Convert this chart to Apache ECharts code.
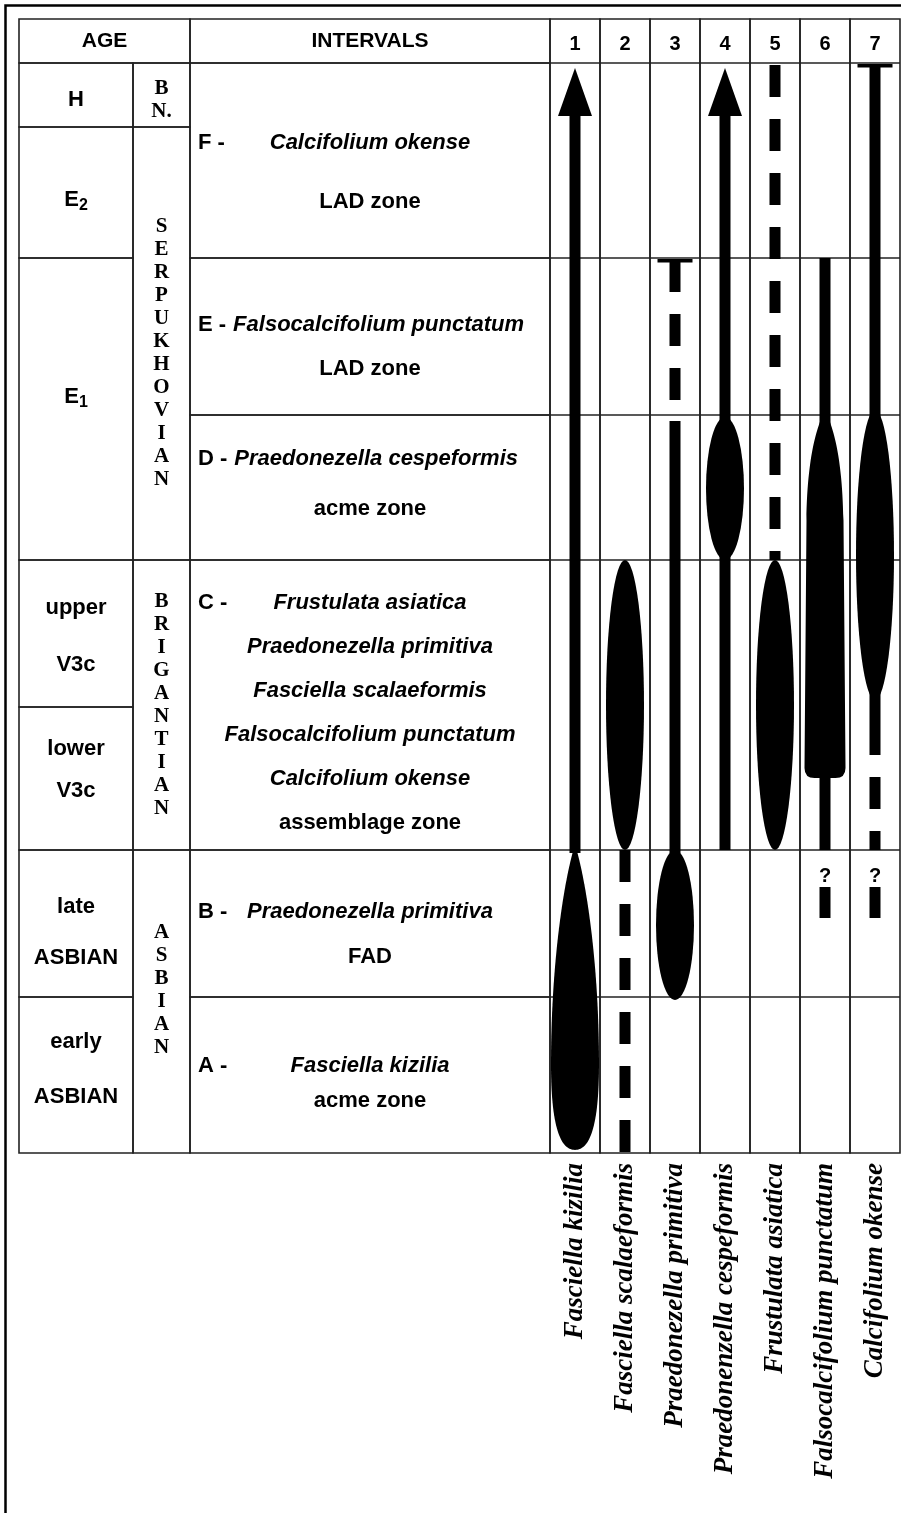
<!DOCTYPE html>
<html>
<head>
<meta charset="utf-8">
<title>Range chart</title>
<script src="https://cdn.jsdelivr.net/npm/echarts@6/dist/echarts.min.js"></script>
<style>
  html, body { margin: 0; padding: 0; background: #fff; }
  #chart { width: 901px; height: 1513px; }
</style>
</head>
<body>
<div id="chart"></div>
<script>
// ---- data ----
// stratigraphic height scale: 0 = base of early Asbian, 1090 = top of H
const species = ['Fasciella kizilia', 'Fasciella scalaeformis', 'Praedonezella primitiva',
  'Praedonenzella cespeformis', 'Frustulata asiatica', 'Falsocalcifolium punctatum', 'Calcifolium okense'];
const columnNumbers = ['1', '2', '3', '4', '5', '6', '7'];
const headers = ['AGE', 'INTERVALS'];

const ageNames = ['early\nASBIAN', 'late\nASBIAN', 'lower\nV3c', 'upper\nV3c', 'E_1', 'E_2', 'H'];
const ageBase = [0, 156, 303, 446, 593, 895, 1026];
const ageTop = [156, 303, 446, 593, 895, 1026, 1090];

const stageNames = ['ASBIAN', 'BRIGANTIAN', 'SERPUKHOVIAN', 'BN.'];
const stageBase = [0, 303, 593, 1026];
const stageTop = [303, 593, 1026, 1090];

const zonePrefix = ['A -', 'B -', 'C -', 'D -', 'E -', 'F -'];
const zoneBase = [0, 156, 303, 593, 738, 895];
const zoneTop = [156, 303, 593, 738, 895, 1090];
const zoneLines = [
  ['Fasciella kizilia', 'acme zone'],
  ['Praedonezella primitiva', 'FAD'],
  ['Frustulata asiatica', 'Praedonezella primitiva', 'Fasciella scalaeformis',
    'Falsocalcifolium punctatum', 'Calcifolium okense', 'assemblage zone'],
  ['Praedonezella cespeformis', 'acme zone'],
  ['Falsocalcifolium punctatum', 'LAD zone'],
  ['Calcifolium okense', 'LAD zone']
];
const zoneTaxaLines = [1, 1, 5, 1, 1, 1]; // leading lines that are taxon names (italic)

// ranges: [species index, base level, top level]
const solidRanges = [[0, 300, 1037], [2, 300, 732], [3, 303, 1037], [5, 303, 895], [6, 398, 1088]];
const dashedRanges = [[1, 0, 303], [2, 738, 893], [4, 593, 1088], [6, 303, 376]];
const acmeEllipses = [[1, 303, 593], [2, 153, 303], [3, 593, 736], [4, 303, 593], [6, 453, 743]];
const acmeSpindles = [[5, 375, 743]];
const acmeTeardrops = [[0, 3, 308]];
const arrowHeads = [[0, 1037, 1085], [3, 1037, 1085]];
const lastBars = [[2, 893], [6, 1088]];
const uncertainRanges = [[5, 235, 266], [6, 235, 266]];

// ---- layout / style ----
const SANS = '"Liberation Sans", Arial, sans-serif';
const SERIF = '"Liberation Serif", "Times New Roman", serif';
const LINE = '#222';
const LW = 1.6;
const LEFT_COLS = [0, 114, 171, 531];   // age | stage | intervals, offsets in grid 0
const HEAD_SPANS = [[0, 2], [2, 3]];
const HEAD_H = 44;
const AGE_GAP = [55, 51, 42, 57, 0, 0, 0];
const AGE_DY = [-6, 9, -9, 3, -12, 7, 5];
const STAGE_DY = [-11, 0, 10, 5];
const ZONE_GAP = [35, 45, 44, 50, 44, 59];
const ZONE_DY = [8, 11, 8, -4, 10, 12];
const BAR_W = 11, ELLIPSE_W = 38, SPINDLE_W = 41, TEAR_W = 48, ARROW_W = 34, TBAR_W = 35;

const measureCtx = document.createElement('canvas').getContext('2d');
function textWidth(t, font) {
  measureCtx.font = font;
  return measureCtx.measureText(t).width;
}
function cellRect(x0, y0, x1, y1) {
  return {
    type: 'rect',
    shape: { x: x0, y: y0, width: x1 - x0, height: y1 - y0 },
    style: { fill: 'none', stroke: LINE, lineWidth: LW }
  };
}
function label(t, x, y, font, align) {
  return {
    type: 'text',
    style: { text: t, x: x, y: y, font: font, fill: '#000', align: align || 'center', verticalAlign: 'middle' }
  };
}
function levelY(api, v) {
  return api.coord([0, v])[1];
}

// ---- left table ----
function renderHeadLeft(params, api) {
  const cs = params.coordSys;
  const i = api.value(0);
  const x0 = cs.x + LEFT_COLS[HEAD_SPANS[i][0]];
  const x1 = cs.x + LEFT_COLS[HEAD_SPANS[i][1]];
  return {
    type: 'group',
    children: [
      cellRect(x0, cs.y - HEAD_H, x1, cs.y),
      label(headers[i], (x0 + x1) / 2, cs.y - HEAD_H / 2, 'bold 21px ' + SANS)
    ]
  };
}

function renderAge(params, api) {
  const cs = params.coordSys;
  const i = api.value(0);
  const yb = levelY(api, api.value(1));
  const yt = levelY(api, api.value(2));
  const x0 = cs.x + LEFT_COLS[0], x1 = cs.x + LEFT_COLS[1];
  const cx = (x0 + x1) / 2;
  const mid = (yb + yt) / 2 + AGE_DY[i];
  const font = 'bold 22px ' + SANS;
  const children = [cellRect(x0, yt, x1, yb)];
  const name = ageNames[i];
  if (name.indexOf('_') >= 0) {
    const parts = name.split('_');
    const subFont = 'bold 16px ' + SANS;
    const w1 = textWidth(parts[0], font), w2 = textWidth(parts[1], subFont);
    const left = cx - (w1 + w2) / 2;
    children.push(label(parts[0], left, mid, font, 'left'));
    children.push(label(parts[1], left + w1, mid + 6, subFont, 'left'));
  } else {
    const lines = name.split('\n');
    lines.forEach(function (t, k) {
      children.push(label(t, cx, mid + (k - (lines.length - 1) / 2) * AGE_GAP[i], font));
    });
  }
  return { type: 'group', children: children };
}

function renderStage(params, api) {
  const cs = params.coordSys;
  const i = api.value(0);
  const yb = levelY(api, api.value(1));
  const yt = levelY(api, api.value(2));
  const x0 = cs.x + LEFT_COLS[1], x1 = cs.x + LEFT_COLS[2];
  const letters = [];
  stageNames[i].split('').forEach(function (c) {
    if (c === '.' && letters.length) letters[letters.length - 1] += c;
    else letters.push(c);
  });
  return {
    type: 'group',
    children: [
      cellRect(x0, yt, x1, yb),
      {
        type: 'text',
        style: {
          text: letters.join('\n'), x: (x0 + x1) / 2, y: (yb + yt) / 2 + STAGE_DY[i],
          font: 'bold 21px ' + SERIF, lineHeight: 23, fill: '#000', align: 'center', verticalAlign: 'middle'
        }
      }
    ]
  };
}

function renderZone(params, api) {
  const cs = params.coordSys;
  const i = api.value(0);
  const yb = levelY(api, api.value(1));
  const yt = levelY(api, api.value(2));
  const x0 = cs.x + LEFT_COLS[2], x1 = cs.x + LEFT_COLS[3];
  const cx = (x0 + x1) / 2;
  const lines = zoneLines[i];
  const mid = (yb + yt) / 2 + ZONE_DY[i];
  const prefixFont = 'bold 22px ' + SANS;
  const prefixX = x0 + 8;
  const prefixRight = prefixX + textWidth(zonePrefix[i], prefixFont);
  const children = [cellRect(x0, yt, x1, yb)];
  lines.forEach(function (t, k) {
    const y = mid + (k - (lines.length - 1) / 2) * ZONE_GAP[i];
    const font = (k < zoneTaxaLines[i] ? 'italic ' : '') + 'bold 22px ' + SANS;
    let left = cx - textWidth(t, font) / 2;
    if (k === 0) {
      left = Math.max(left, prefixRight + 7);
      children.push(label(zonePrefix[i], prefixX, y, prefixFont, 'left'));
    }
    children.push(label(t, left, y, font, 'left'));
  });
  return { type: 'group', children: children };
}

// ---- species columns ----
function renderColumn(params, api) {
  const cs = params.coordSys;
  const i = api.value(0);
  const cx = api.coord([i, 0])[0];
  const bw = api.size([1, 0])[0];
  return {
    type: 'group',
    children: [
      cellRect(cx - bw / 2, cs.y - HEAD_H, cx + bw / 2, cs.y + cs.height),
      label(columnNumbers[i], cx, cs.y - HEAD_H / 2 + 3, 'bold 20px ' + SANS)
    ]
  };
}

function renderZoneLine(params, api) {
  const cs = params.coordSys;
  const y = levelY(api, api.value(0));
  return {
    type: 'line',
    shape: { x1: cs.x, y1: y, x2: cs.x + cs.width, y2: y },
    style: { stroke: LINE, lineWidth: LW }
  };
}

function rangePts(api) {
  const i = api.value(0);
  const p0 = api.coord([i, api.value(1)]);
  const p1 = api.coord([i, api.value(2)]);
  return { x: p0[0], yb: p0[1], yt: p1[1] };
}

function renderSolid(params, api) {
  const r = rangePts(api);
  return {
    type: 'rect',
    shape: { x: r.x - BAR_W / 2, y: r.yt, width: BAR_W, height: r.yb - r.yt },
    style: { fill: '#000' }
  };
}

function renderDashed(params, api) {
  const r = rangePts(api);
  return {
    type: 'line',
    shape: { x1: r.x, y1: r.yt, x2: r.x, y2: r.yb },
    style: { stroke: '#000', lineWidth: BAR_W, lineDash: [32, 22], lineCap: 'butt' }
  };
}

function renderEllipse(params, api) {
  const r = rangePts(api);
  const rx = ELLIPSE_W / 2, ry = (r.yb - r.yt) / 2;
  return {
    type: 'path',
    shape: {
      pathData: 'M' + r.x + ' ' + r.yt + ' A' + rx + ' ' + ry + ' 0 1 1 ' + r.x + ' ' + r.yb +
        ' A' + rx + ' ' + ry + ' 0 1 1 ' + r.x + ' ' + r.yt + ' Z'
    },
    style: { fill: '#000' }
  };
}

function renderSpindle(params, api) {
  const r = rangePts(api);
  const x = r.x, yt = r.yt, yb = r.yb, h = yb - yt, w = SPINDLE_W / 2;
  const d = [
    'M', x, yt,
    'C', x + 5, yt + 0.03 * h, x + w - 3, yt + 0.1 * h, x + w - 2, yt + 0.3 * h,
    'L', x + w, yb - 10,
    'Q', x + w, yb, x + w - 10, yb,
    'L', x - w + 10, yb,
    'Q', x - w, yb, x - w, yb - 10,
    'L', x - w + 2, yt + 0.3 * h,
    'C', x - w + 3, yt + 0.1 * h, x - 5, yt + 0.03 * h, x, yt, 'Z'
  ].join(' ');
  return { type: 'path', shape: { pathData: d }, style: { fill: '#000' } };
}

function renderTeardrop(params, api) {
  const r = rangePts(api);
  const x = r.x, yt = r.yt, yb = r.yb, h = yb - yt, w = TEAR_W / 2;
  const d = [
    'M', x, yt,
    'C', x + w * 0.35, yt + 0.08 * h, x + w, yt + 0.35 * h, x + w, yt + 0.72 * h,
    'C', x + w, yt + 0.95 * h, x + w * 0.5, yb, x, yb,
    'C', x - w * 0.5, yb, x - w, yt + 0.95 * h, x - w, yt + 0.72 * h,
    'C', x - w, yt + 0.35 * h, x - w * 0.35, yt + 0.08 * h, x, yt, 'Z'
  ].join(' ');
  return { type: 'path', shape: { pathData: d }, style: { fill: '#000' } };
}

function renderArrow(params, api) {
  const r = rangePts(api);
  return {
    type: 'polygon',
    shape: { points: [[r.x - ARROW_W / 2, r.yb], [r.x + ARROW_W / 2, r.yb], [r.x, r.yt]] },
    style: { fill: '#000' }
  };
}

function renderBar(params, api) {
  const p = api.coord([api.value(0), api.value(1)]);
  return {
    type: 'rect',
    shape: { x: p[0] - TBAR_W / 2, y: p[1] - 1, width: TBAR_W, height: 3.5 },
    style: { fill: '#000' }
  };
}

function renderUncertain(params, api) {
  const r = rangePts(api);
  return {
    type: 'group',
    children: [
      {
        type: 'rect',
        shape: { x: r.x - BAR_W / 2, y: r.yt, width: BAR_W, height: r.yb - r.yt },
        style: { fill: '#000' }
      },
      {
        type: 'text',
        style: { text: '?', x: r.x, y: r.yt - 1, font: 'bold 20px ' + SANS, fill: '#000', align: 'center', verticalAlign: 'bottom' }
      }
    ]
  };
}

function rangeSeries(name, data, renderItem) {
  return {
    type: 'custom', name: name, xAxisIndex: 1, yAxisIndex: 1,
    data: data, renderItem: renderItem, silent: true
  };
}
function leftSeries(name, data, renderItem) {
  return {
    type: 'custom', name: name, xAxisIndex: 0, yAxisIndex: 0,
    data: data, renderItem: renderItem, silent: true,
    encode: { x: -1, y: [1, 2] }
  };
}

const chart = echarts.init(document.getElementById('chart'), null, { renderer: 'canvas' });
chart.setOption({
  animation: false,
  backgroundColor: '#fff',
  textStyle: { fontFamily: SANS },
  graphic: [{
    type: 'rect',
    shape: { x: 5.5, y: 5.5, width: 1000, height: 1600 },
    style: { fill: 'none', stroke: '#000', lineWidth: 2.5 },
    silent: true
  }],
  grid: [
    { left: 19, top: 63, width: 531, bottom: 360 },
    { left: 550, top: 63, width: 350, bottom: 360 }
  ],
  xAxis: [
    { gridIndex: 0, type: 'value', min: 0, max: 1, show: false },
    {
      gridIndex: 1, type: 'category', data: species,
      axisLine: { show: false }, axisTick: { show: false }, splitLine: { show: false },
      axisLabel: {
        interval: 0, rotate: 90, margin: 10, color: '#000',
        fontFamily: SERIF, fontStyle: 'italic', fontWeight: 'bold', fontSize: 27
      }
    }
  ],
  yAxis: [
    { gridIndex: 0, type: 'value', min: 0, max: 1090, show: false },
    { gridIndex: 1, type: 'value', min: 0, max: 1090, show: false }
  ],
  series: [
    leftSeries('headers', headers.map(function (h, i) { return [i, 0, 0]; }), renderHeadLeft),
    leftSeries('ages', ageNames.map(function (n, i) { return [i, ageBase[i], ageTop[i]]; }), renderAge),
    leftSeries('stages', stageNames.map(function (n, i) { return [i, stageBase[i], stageTop[i]]; }), renderStage),
    leftSeries('intervals', zonePrefix.map(function (n, i) { return [i, zoneBase[i], zoneTop[i]]; }), renderZone),
    rangeSeries('columns', species.map(function (n, i) { return [i, 0, 0]; }), renderColumn),
    rangeSeries('zone lines', zoneTop.map(function (v) { return [v]; }), renderZoneLine),
    rangeSeries('dashed', dashedRanges, renderDashed),
    rangeSeries('solid', solidRanges, renderSolid),
    rangeSeries('ellipse', acmeEllipses, renderEllipse),
    rangeSeries('spindle', acmeSpindles, renderSpindle),
    rangeSeries('teardrop', acmeTeardrops, renderTeardrop),
    rangeSeries('arrow', arrowHeads, renderArrow),
    rangeSeries('last occurrence', lastBars, renderBar),
    rangeSeries('uncertain', uncertainRanges, renderUncertain)
  ]
});
</script>
</body>
</html>
